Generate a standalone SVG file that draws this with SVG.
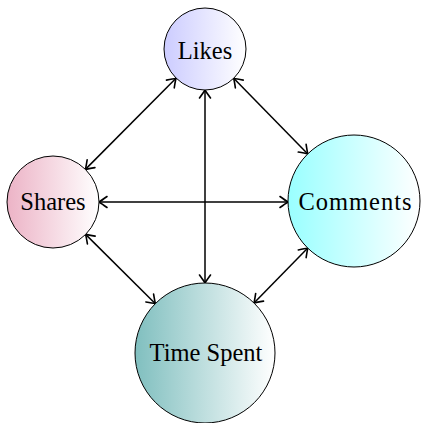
<svg xmlns="http://www.w3.org/2000/svg" width="421" height="423" viewBox="0 0 421 423">
<style>
.node circle{stroke:#000;stroke-width:1}
.node text{font-family:"Liberation Serif","DejaVu Serif",serif;font-size:24.5px;text-anchor:middle;fill:#000}
.edge{stroke:#000;stroke-width:1.5;fill:none;marker-start:url(#ah);marker-end:url(#ah)}
</style>
<defs>
<linearGradient id="gL" x1="0" x2="1" y1="0" y2="0"><stop offset="0" stop-color="#ccccff"/><stop offset="1" stop-color="#ffffff"/></linearGradient>
<linearGradient id="gS" x1="0" x2="1" y1="0" y2="0"><stop offset="0" stop-color="#ecb3c6"/><stop offset="1" stop-color="#ffffff"/></linearGradient>
<linearGradient id="gC" x1="0" x2="1" y1="0" y2="0"><stop offset="0" stop-color="#99ffff"/><stop offset="1" stop-color="#ffffff"/></linearGradient>
<linearGradient id="gT" x1="0" x2="1" y1="0" y2="0"><stop offset="0" stop-color="#80bfbf"/><stop offset="1" stop-color="#ffffff"/></linearGradient>
<marker id="ah" markerUnits="userSpaceOnUse" viewBox="-10 -7 12 14" markerWidth="12" markerHeight="14" refX="0" refY="0" orient="auto-start-reverse">
<path d="M-8,-5.5 Q-2.5,-1.5 0,0 Q-2.5,1.5 -8,5.5" fill="none" stroke="#000" stroke-width="1.6" stroke-linecap="round"/>
</marker>
</defs>
<g id="connectors">
<line class="edge" x1="176" y1="78.3" x2="85.4" y2="169.4"/>
<line class="edge" x1="233.7" y1="78.3" x2="307.8" y2="153.9"/>
<line class="edge" x1="205" y1="90" x2="205" y2="283"/>
<line class="edge" x1="99" y1="202" x2="288" y2="202"/>
<line class="edge" x1="85.6" y1="234.4" x2="155.4" y2="303.7"/>
<line class="edge" x1="307.8" y1="248.1" x2="254" y2="303"/>
</g>
<g id="likes" class="node"><circle cx="205" cy="49" r="41" fill="url(#gL)"/><text x="205" y="59">Likes</text></g>
<g id="shares" class="node"><circle cx="53" cy="202" r="46" fill="url(#gS)"/><text x="53" y="210">Shares</text></g>
<g id="comments" class="node"><circle cx="354" cy="201" r="66" fill="url(#gC)"/><text x="355" y="210" textLength="113" lengthAdjust="spacing">Comments</text></g>
<g id="timespent" class="node"><circle cx="205" cy="353" r="70" fill="url(#gT)"/><text x="206" y="361">Time Spent</text></g>
</svg>
